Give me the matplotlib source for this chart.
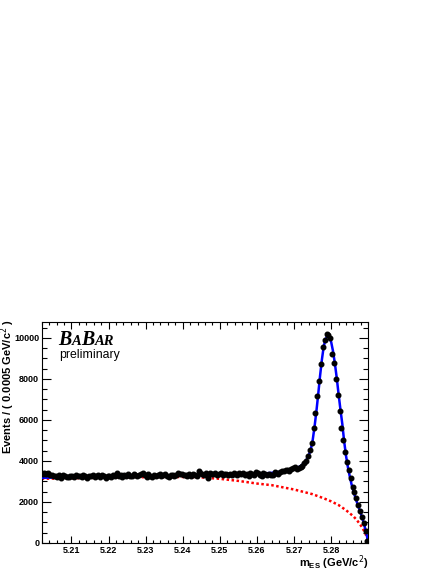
import numpy as np
import matplotlib
matplotlib.use("Agg")
import matplotlib.pyplot as plt
from matplotlib.ticker import MultipleLocator, FixedLocator, FormatStrFormatter

# ---------------- data ----------------
bin_low = 5.202          # lower edge of first bin (GeV/c^2)
bin_width = 0.0005       # bin width (GeV/c^2)

counts = [
    # 5.20225 ...
    3380, 3420, 3350, 3400, 3300, 3330, 3280, 3250, 3200, 3300, 3150, 3320, 3260, 3200, 3240, 3290, 3280, 3230, 3300, 3250,
    3270, 3200, 3310, 3260, 3180, 3290, 3250, 3320, 3230, 3270, 3300, 3220, 3330, 3250, 3170, 3260, 3280, 3210, 3300, 3250,
    3400, 3280, 3300, 3230, 3320, 3270, 3350, 3290, 3250, 3380, 3300, 3260, 3330, 3360, 3420, 3300, 3240, 3350, 3290, 3200,
    3330, 3270, 3310, 3350, 3250, 3300, 3380, 3290, 3220, 3340, 3300, 3260, 3310, 3400, 3350, 3380, 3300, 3330, 3270, 3360,
    3290, 3350, 3310, 3250, 3500, 3420, 3380, 3330, 3400, 3150, 3420, 3360, 3350, 3400, 3300, 3380, 3420, 3320, 3350, 3390,
    3330, 3380, 3300, 3420, 3360, 3310, 3400, 3350, 3430, 3300, 3380, 3250, 3410, 3370, 3340, 3450, 3400, 3330, 3280, 3420,
    3360, 3300, 3350, 3320,
    # 5.26425 ...
    3317, 3480, 3400, 3366, 3480, 3528, 3500, 3561, 3561, 3520, 3600, 3642, 3700, 3600, 3660, 3700, 3760, 3886, 4000, 4244,
    4537, 4894, 5593, 6350, 7156, 7918, 8747, 9577, 9880, 10210, 10140, 10020, 9205, 8766, 8000, 7220, 6454, 5625, 5024, 4455,
    3966, 3561, 3155, 2748, 2505, 2212, 1854, 1561, 1285, 959, 600, 120,
]

# total fit (blue)
fit_m = [5.2020, 5.2100, 5.2200, 5.2300, 5.2400, 5.2500, 5.2550, 5.2600, 5.2625, 5.2650,
         5.2675, 5.2695, 5.2710, 5.2720, 5.2730, 5.2738, 5.2745, 5.2750, 5.2755, 5.2760,
         5.2765, 5.2770, 5.2775, 5.2780, 5.2785, 5.2790, 5.2795, 5.2800, 5.2805, 5.2810,
         5.2815, 5.2820, 5.2825, 5.2830, 5.2835, 5.2840, 5.2845, 5.2850, 5.2855, 5.2860,
         5.2865, 5.2870, 5.2875, 5.2880, 5.2885, 5.2890, 5.2895, 5.2899, 5.2900]
fit_total = [3180, 3215, 3250, 3280, 3310, 3330, 3340, 3370, 3400, 3440,
             3500, 3580, 3680, 3780, 3960, 4200, 4560, 5000, 5650, 6400,
             7250, 8150, 8950, 9600, 9950, 10100, 10050, 9800, 9350, 8750,
             8050, 7250, 6500, 5800, 4950, 4250, 3700, 3250, 2850, 2520,
             2230, 1950, 1700, 1430, 1150, 820, 450, 100, 0]

# background (red dotted)
bkg_m = [5.2020, 5.2100, 5.2200, 5.2300, 5.2400, 5.2450, 5.2500, 5.2550, 5.2600, 5.2640,
         5.2700, 5.2750, 5.2780, 5.2800, 5.2820, 5.2840, 5.2860, 5.2870, 5.2880, 5.2885,
         5.2890, 5.2895, 5.2898, 5.2900]
bkg = [3130, 3160, 3190, 3210, 3220, 3200, 3130, 3030, 2900, 2820,
       2610, 2380, 2180, 2030, 1850, 1600, 1300, 1100, 850, 700,
       550, 330, 180, 0]

x_major = [5.21, 5.22, 5.23, 5.24, 5.25, 5.26, 5.27, 5.28]
y_major = [0, 2000, 4000, 6000, 8000, 10000]

# ---------------- figure ----------------
W, H = 442, 571
fig = plt.figure(figsize=(W / 100, H / 100), dpi=100)
ax = fig.add_axes([41.7 / W, 1 - 543 / H, (368.3 - 41.7) / W, (543 - 322) / H])

x = bin_low + bin_width * (np.arange(len(counts)) + 0.5)
y = np.array(counts, dtype=float)

ax.plot(bkg_m, bkg, color="#ff0000", lw=1.8, linestyle=(0, (1, 1.0)), zorder=2)
ax.plot(fit_m, fit_total, color="#0000ff", lw=1.8, zorder=3)
ax.errorbar(x, y, yerr=np.sqrt(y), fmt="o", color="black", ms=3.3, elinewidth=0.8,
            capsize=0, zorder=4)

ax.set_xlim(5.202, 5.29)
ax.set_ylim(0, 10780)

tickfont = dict(family="Liberation Sans", weight="bold", size=6.5)
ax.xaxis.set_major_locator(FixedLocator(x_major))
ax.xaxis.set_minor_locator(MultipleLocator(0.002))
ax.yaxis.set_major_locator(FixedLocator(y_major))
ax.yaxis.set_minor_locator(MultipleLocator(500))
ax.xaxis.set_major_formatter(FormatStrFormatter("%.2f"))
ax.yaxis.set_major_formatter(FormatStrFormatter("%d"))
for lab in ax.get_xticklabels() + ax.get_yticklabels():
    lab.set_fontproperties(matplotlib.font_manager.FontProperties(**tickfont))

ax.tick_params(axis="both", which="both", direction="in", top=True, right=True,
               width=0.8, color="black")
ax.tick_params(axis="x", which="major", length=4.8, pad=2.0)
ax.tick_params(axis="x", which="minor", length=2.5)
ax.tick_params(axis="y", which="major", length=6.5, pad=1.8)
ax.tick_params(axis="y", which="minor", length=3.5)
for s in ax.spines.values():
    s.set_linewidth(0.8)

labfont = dict(family="Liberation Sans", weight="bold", size=8.0)
ax.set_ylabel("Events / ( 0.0005 GeV/c$^{2}$ )", fontdict=labfont, ha="right")
ax.yaxis.set_label_coords(-0.0745, 1.012)
ax.set_xlabel("m$_{\\mathregular{ES}}$ (GeV/c$^{2}$)", fontdict=labfont, ha="right",
              va="top")
ax.xaxis.set_label_coords(1.0, -0.047)

# BaBar logo with small caps
renderer = fig.canvas.get_renderer()
xpix, ybase = 58.0, H - 345.0
pieces = [("B", 14.3), ("A", 10.5), ("B", 14.3), ("AR", 10.5)]
for txt, sz in pieces:
    t = fig.text(xpix / W, ybase / H, txt, family="Liberation Serif", weight="bold",
                 style="italic", size=sz, ha="left", va="baseline")
    bb = t.get_window_extent(renderer=renderer)
    xpix += bb.width + 0.3
fig.text(59.0 / W, (H - 358) / H, "preliminary", family="Liberation Sans",
         size=8.8, ha="left", va="baseline")

fig.savefig("out.png", dpi=100)
